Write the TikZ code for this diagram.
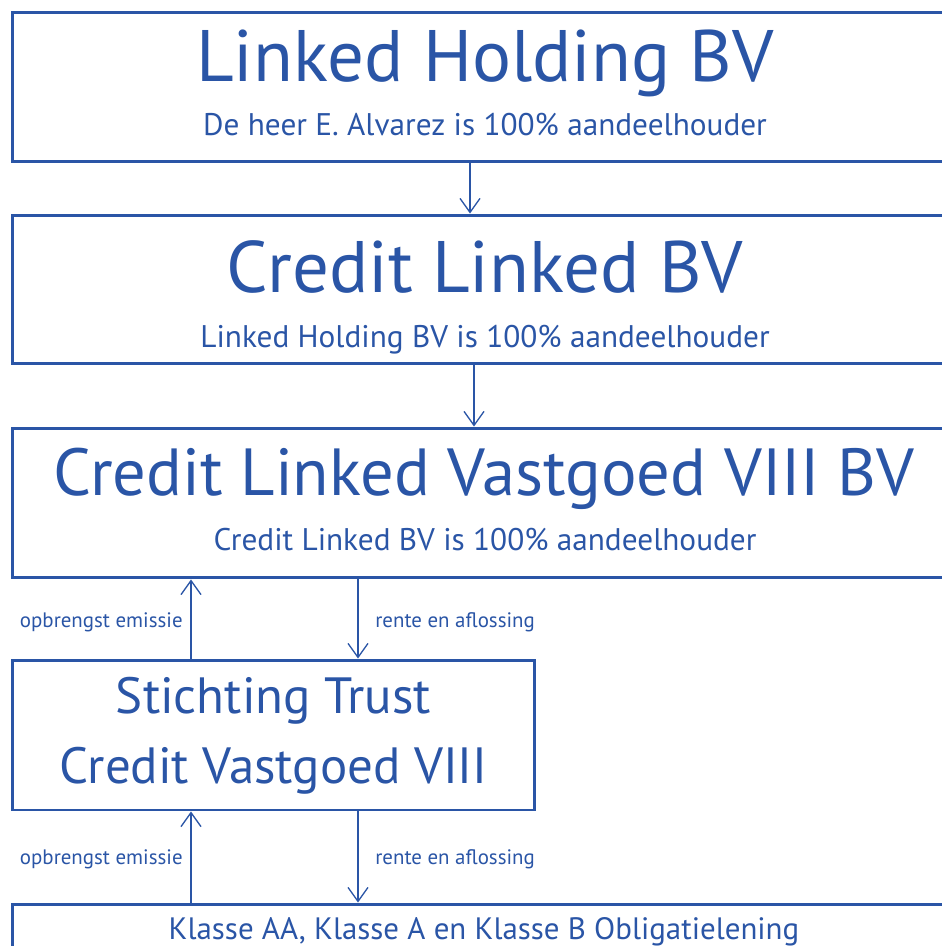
\documentclass[tikz,border=0pt]{standalone}
\usepackage{fontspec}
\setmainfont{PT Sans}
\usetikzlibrary{arrows.meta}
\definecolor{linkblue}{HTML}{2A55A6}
\begin{document}
\begin{tikzpicture}[x=0.02cm,y=-0.02cm,
  box/.style={draw=linkblue,line width=1.7pt,rectangle,inner sep=0pt},
  txt/.style={text=linkblue,anchor=base,inner sep=0pt},
  arr/.style={draw=linkblue,line width=0.75pt,-{Straight Barb[length=0.28cm,width=0.4cm,line width=0.75pt]}}]
\useasboundingbox (0,0) rectangle (942,946);
\clip (0,0) rectangle (942,946);

\node [box,minimum width=18.92cm,minimum height=3cm] (holding) at (485,87) {};
\node [box,minimum width=18.92cm,minimum height=2.98cm] (credit) at (485,289.5) {};
\node [box,minimum width=18.92cm,minimum height=3cm] (vastgoed) at (485,503) {};
\node [box,minimum width=10.46cm,minimum height=3cm] (trust) at (273.5,735) {};
\node [box,minimum width=18.92cm,minimum height=3cm] (obligatie) at (485,979) {};

\node [txt,font=\fontsize{41.5}{44}\selectfont] (holdingname) at (485,82) {Linked Holding BV};
\node [txt,font=\fontsize{17.8}{20}\selectfont] (holdingsub) at (485,135) {De heer E. Alvarez is 100\% aandeelhouder};
\node [txt,font=\fontsize{41.5}{44}\selectfont] (creditname) at (485,292) {Credit Linked BV};
\node [txt,font=\fontsize{17.8}{20}\selectfont] (creditsub) at (485,347) {Linked Holding BV is 100\% aandeelhouder};
\node [txt,font=\fontsize{37.9}{40}\selectfont] (vastgoedname) at (484,495) {Credit Linked Vastgoed VIII BV};
\node [txt,font=\fontsize{17.8}{20}\selectfont] (vastgoedsub) at (485,550) {Credit Linked BV is 100\% aandeelhouder};
\node [txt,font=\fontsize{29}{32}\selectfont] (trustname) at (273.5,713) {Stichting Trust};
\node [txt,font=\fontsize{29}{32}\selectfont] (trustsub) at (273.5,783) {Credit Vastgoed VIII};
\node [txt,font=\fontsize{17.6}{20}\selectfont] (obligatiename) at (484,939) {Klasse AA, Klasse A en Klasse B Obligatielening};

\coordinate (a1) at (470,0);
\coordinate (a2) at (474,0);
\coordinate (up) at (191,0);
\coordinate (down) at (358,0);

\draw [arr] (holding.south -| a1) -- (credit.north -| a1);
\draw [arr] (credit.south -| a2) -- (vastgoed.north -| a2);
\draw [arr] (trust.north -| up) -- (vastgoed.south -| up);
\draw [arr] (vastgoed.south -| down) -- (trust.north -| down);
\draw [arr] (obligatie.north -| up) -- (trust.south -| up);
\draw [arr] (trust.south -| down) -- (obligatie.north -| down);

\node [txt,anchor=base east,font=\fontsize{11.9}{13}\selectfont] (emissie1) at (183,627) {opbrengst emissie};
\node [txt,anchor=base west,font=\fontsize{11.9}{13}\selectfont] (rente1) at (375,627) {rente en aflossing};
\node [txt,anchor=base east,font=\fontsize{11.9}{13}\selectfont] (emissie2) at (183,864) {opbrengst emissie};
\node [txt,anchor=base west,font=\fontsize{11.9}{13}\selectfont] (rente2) at (375,864) {rente en aflossing};
\end{tikzpicture}
\end{document}
